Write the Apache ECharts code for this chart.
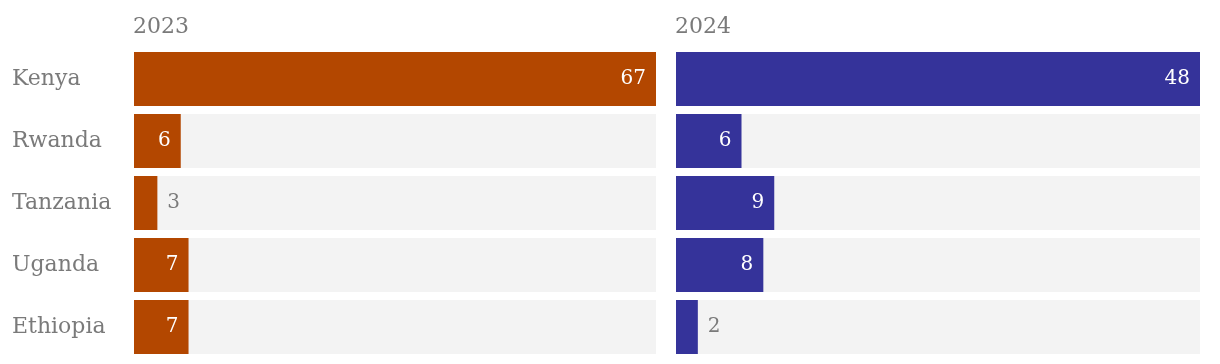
<!DOCTYPE html>
<html><head><meta charset="utf-8">
<script src="https://cdn.jsdelivr.net/npm/echarts@6/dist/echarts.min.js"></script>
<style>html,body{margin:0;padding:0;background:#fff}#c{width:1220px;height:364px}</style>
</head><body><div id="c"></div>
<script>
const countries = ['Kenya','Rwanda','Tanzania','Uganda','Ethiopia'];
const years = ['2023','2024'];
const values2023 = [67,6,3,7,7];
const values2024 = [48,6,9,8,2];
const colors = ['#b34700','#35339a'];
const FONT = '"DejaVu Serif", "Liberation Serif", serif';
const GRAY = '#7a7a7a';

function dataWithLabels(vals, max) {
  return vals.map(v => {
    const inside = v / max > 0.05;
    return {
      value: v,
      label: inside
        ? {position: 'insideRight', color: '#fff', distance: 10}
        : {position: 'right', color: GRAY, distance: 10}
    };
  });
}

const chart = echarts.init(document.getElementById('c'));
const max23 = Math.max(...values2023), max24 = Math.max(...values2024);
chart.setOption({
  animation: false,
  textStyle: {fontFamily: FONT},
  title: [
    {text: years[0], left: 133, top: 16, padding: 0, textStyle: {fontFamily: FONT, fontSize: 22, fontWeight: 'normal', color: GRAY}},
    {text: years[1], left: 675, top: 16, padding: 0, textStyle: {fontFamily: FONT, fontSize: 22, fontWeight: 'normal', color: GRAY}}
  ],
  grid: [
    {left: 134, width: 522, top: 48, height: 310},
    {left: 676, width: 524, top: 48, height: 310}
  ],
  xAxis: [
    {gridIndex: 0, type: 'value', min: 0, max: max23, show: false},
    {gridIndex: 1, type: 'value', min: 0, max: max24, show: false}
  ],
  yAxis: [
    {gridIndex: 0, type: 'category', data: countries, inverse: true,
     axisLine: {show: false}, axisTick: {show: false},
     axisLabel: {align: 'left', margin: 122, fontFamily: FONT, fontSize: 22, color: GRAY, padding: [3, 0, 0, 0]}},
    {gridIndex: 1, type: 'category', data: countries, inverse: true, show: false}
  ],
  series: [
    {type: 'bar', xAxisIndex: 0, yAxisIndex: 0, barWidth: 54, data: dataWithLabels(values2023, max23),
     itemStyle: {color: colors[0]}, showBackground: true, backgroundStyle: {color: '#f3f3f3'},
     label: {show: true, fontFamily: FONT, fontSize: 20, padding: [3, 0, 0, 0]}},
    {type: 'bar', xAxisIndex: 1, yAxisIndex: 1, barWidth: 54, data: dataWithLabels(values2024, max24),
     itemStyle: {color: colors[1]}, showBackground: true, backgroundStyle: {color: '#f3f3f3'},
     label: {show: true, fontFamily: FONT, fontSize: 20, padding: [3, 0, 0, 0]}}
  ]
});
</script></body></html>
